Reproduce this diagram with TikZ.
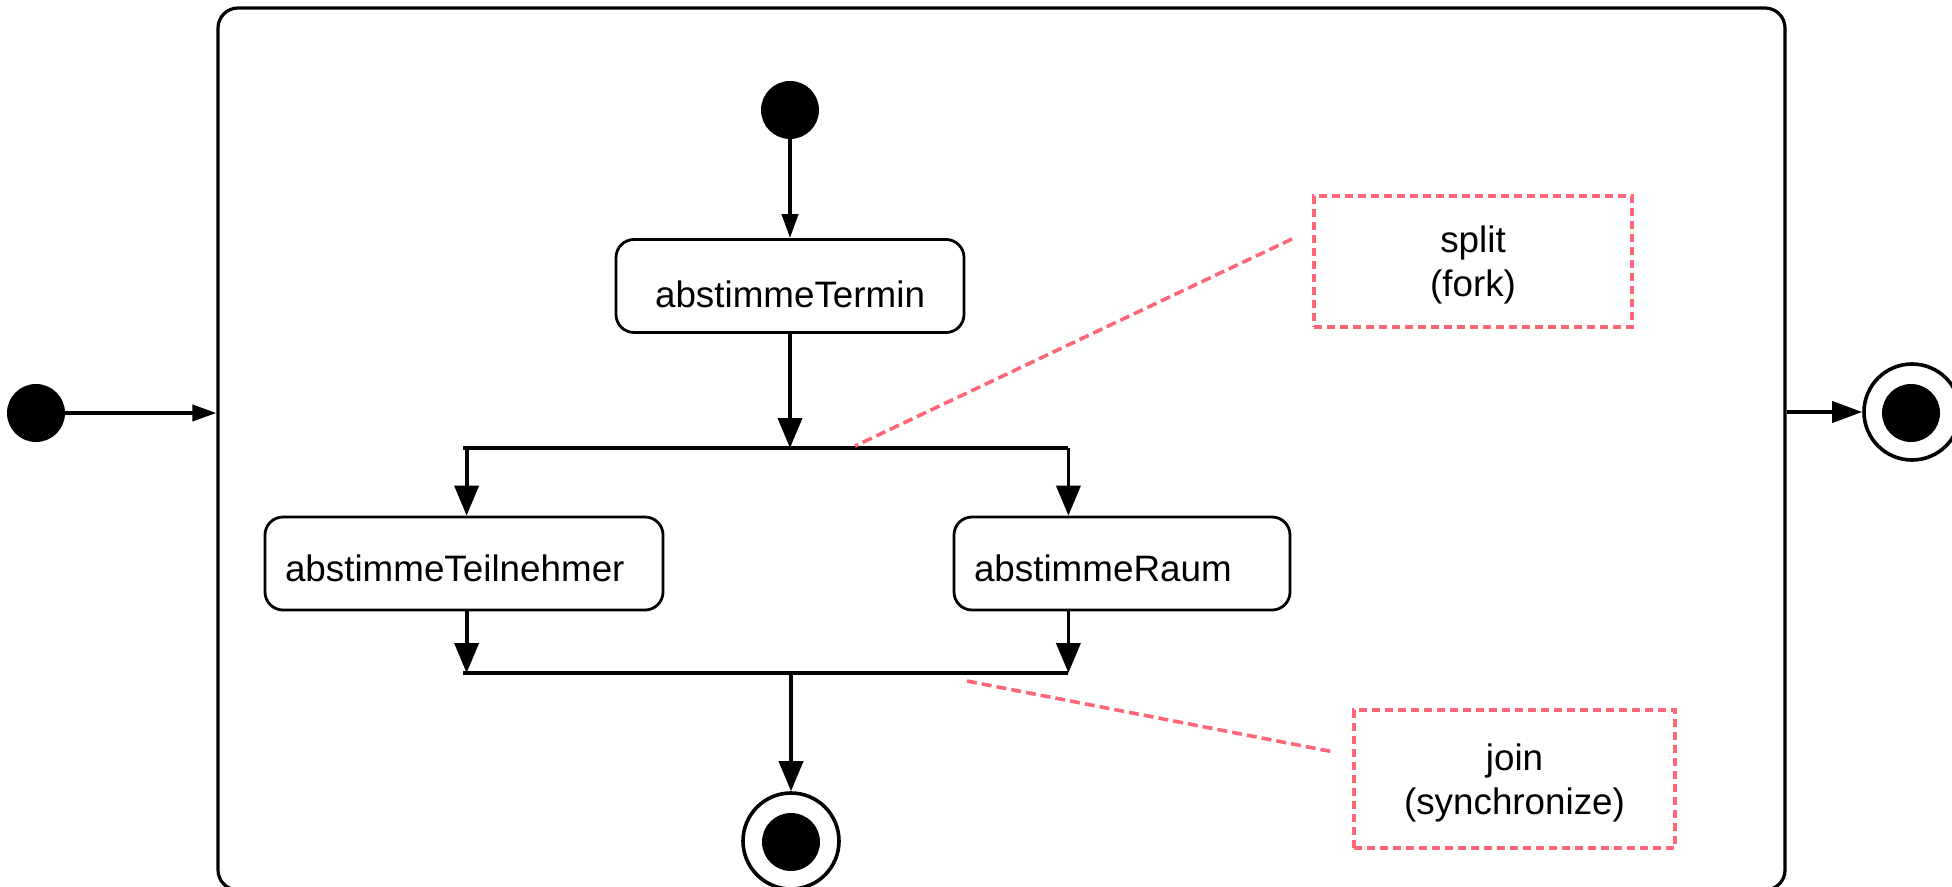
\documentclass[tikz,border=0pt]{standalone}
\usepackage{fontspec}
\setmainfont{Liberation Sans}
\usetikzlibrary{arrows.meta}
\definecolor{notered}{RGB}{255,102,119}
\begin{document}
\begin{tikzpicture}[x=0.5pt,y=-0.5pt,
  every node/.style={font=\fontsize{18.4pt}{22pt}\selectfont},
  dot/.style={circle,fill=black,draw=none,inner sep=0pt,minimum size=29pt},
  endring/.style={circle,draw=black,line width=1.8pt,fill=white,inner sep=0pt,minimum size=48pt},
  activity/.style={draw=black,line width=1.4pt,rounded corners=9pt,minimum height=46.5pt,inner xsep=10pt,text depth=0pt},
  bar/.style={fill=black,draw=none,inner sep=0pt,minimum width=302.5pt,minimum height=2pt},
  note/.style={draw=notered,line width=1.7pt,dash pattern=on 4pt off 2.5pt,align=center,inner sep=0pt,text depth=-2pt},
  notelink/.style={draw=notered,line width=1.8pt,dash pattern=on 5pt off 2.5pt},
  flow/.style={line width=1.9pt,-{Triangle[length=15pt,width=12pt]}},
  flowsmall/.style={line width=1.9pt,-{Triangle[length=12pt,width=8pt]}},
  flowright/.style={line width=1.9pt,-{Triangle[length=15pt,width=10.5pt]}}]
\useasboundingbox (0,0) rectangle (1952,887);

% composite state frame (its lower edge runs past the page)
\node[draw=black,line width=1.6pt,rounded corners=10pt,minimum width=783.5pt,minimum height=441pt,inner sep=0pt] (frame) at (1001.5,449) {};

% outer initial and final states
\node[dot] (start) at (36,413) {};
\node[endring] (finalring) at (1912,412) {};
\node[dot] (finaldot) at (1911,413) {};

% inner initial state and activities
\node[dot] (istart) at (790,110) {};
\node[activity,minimum width=174pt,text height=22pt] (termin) at (790,286) {abstimmeTermin};
\node[bar] (fork) at (765.5,448) {};
\node[activity,minimum width=199pt,text width=179pt,align=left,text height=17.5pt] (teil) at (464,563.5) {abstimmeTeilnehmer};
\node[activity,minimum width=168pt,text width=148pt,align=left,text height=17.5pt] (raum) at (1122,563.5) {abstimmeRaum};
\node[bar] (join) at (765.5,673) {};
\node[endring] (iring) at (791,841) {};
\node[dot] (idot) at (791,842) {};

% notes
\node[note,minimum width=159pt,minimum height=65.5pt] (split) at (1473,261.5) {split\\(fork)};
\node[note,minimum width=160.5pt,minimum height=69pt] (joinnote) at (1514.5,779) {join\\(synchronize)};
\coordinate (splitA) at (1292,239);
\coordinate (splitB) at (855,446);
\coordinate (joinA) at (967,681);
\coordinate (joinB) at (1334,752);

% transitions
\draw[flowsmall] (start) -- (start -| frame.west);
\draw[flowright] (frame.east |- finalring) -- (finalring);
\draw[flowsmall] (istart) -- (termin);
\draw[flow] (termin.south) -- (termin.south |- fork.center);
\draw[flow] ([xshift=2pt]fork.west) -- ([xshift=2pt]fork.west |- teil.north);
\draw[flow] (fork.east) -- (fork.east |- raum.north);
\draw[flow] ([xshift=2pt]join.west |- teil.south) -- ([xshift=2pt]join.west);
\draw[flow] (join.east |- raum.south) -- (join.east);
\draw[flow] (join.center -| iring) -- (iring);

% note links
\draw[notelink] (splitA) -- (splitB);
\draw[notelink] (joinA) -- (joinB);
\end{tikzpicture}
\end{document}
